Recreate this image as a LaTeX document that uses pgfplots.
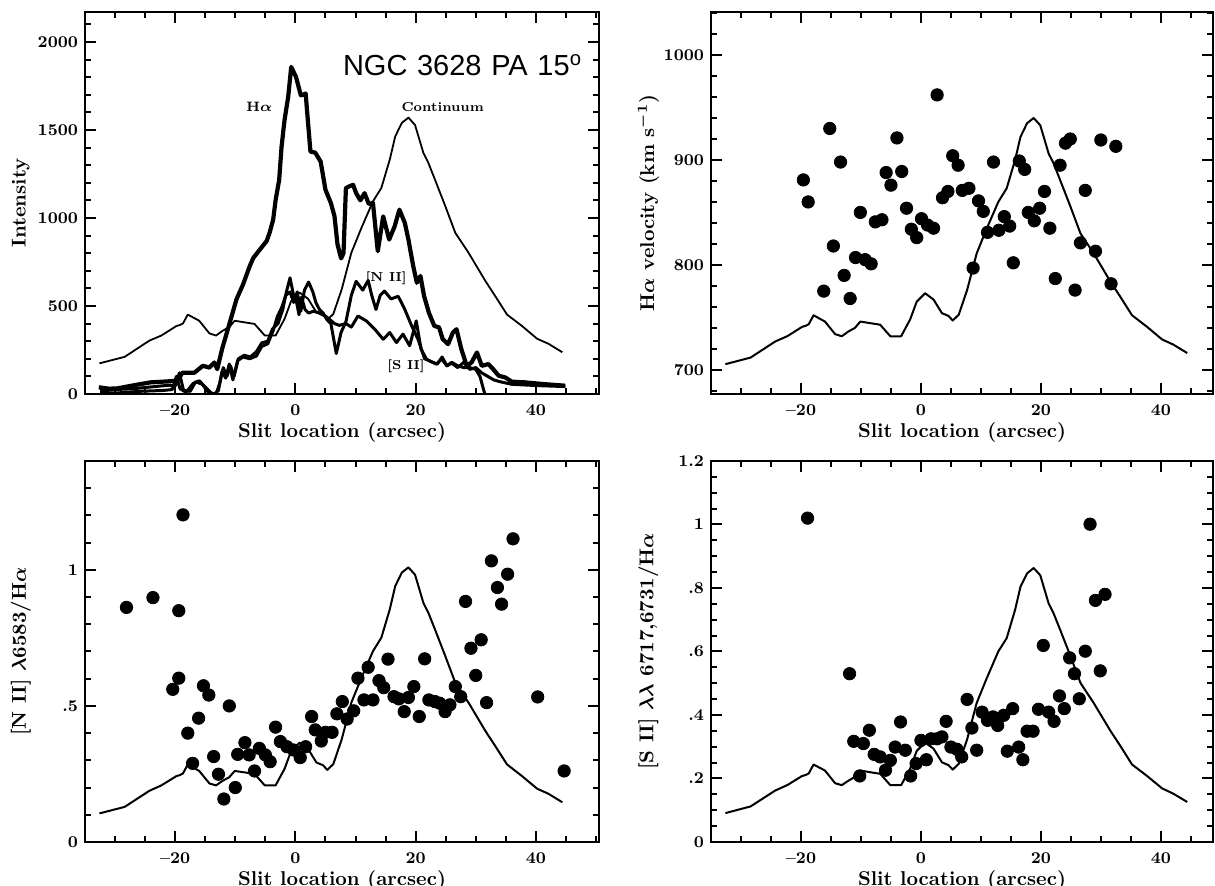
\documentclass[border=0pt]{standalone}
\usepackage{fontspec}
\usepackage{pgfplots}
\pgfplotsset{compat=1.18}
\newfontfamily\titlefont{Liberation Sans}

\pgfplotsset{
  paper/.style={
    scale only axis,
    xmin=-35,
    clip=true,
    axis line style={line width=1.3pt},
    every tick/.style={line width=1pt, black},
    major tick length=5.5pt,
    minor tick length=3pt,
    xtick={-20,0,20,40},
    xticklabels={\textendash20,0,20,40},
    minor xtick={-35,-30,...,50},
    tick label style={font=\fontsize{8.2}{9}\selectfont\bfseries},
    xticklabel style={yshift=-2pt},
    label style={font=\fontsize{10}{11}\selectfont\bfseries\boldmath},
    xlabel={Slit location (arcsec)},
    xlabel style={at={(axis description cs:0.5,-0.1)},anchor=center},
    ylabel style={at={(axis description cs:-0.125,0.5)},anchor=center},
  },
  dots/.style={only marks, mark=*, mark size=3.1pt, black, mark options={fill=black}},
  cont/.style={black, line width=1pt, line join=round, no marks},
}

\begin{document}
\begin{tikzpicture}
\useasboundingbox (0pt,0pt) rectangle (607.5pt,443pt);

% ---------------- Top left: intensities
\begin{axis}[paper, at={(42.5pt,246pt)}, anchor=south west, width=257pt, height=191pt,
  xmax=50.5, ymin=0, ymax=2170,
  ytick={0,500,1000,1500,2000}, yticklabels={0,500,1000,1500,2000},
  minor ytick={0,100,...,2100}, ylabel={Intensity}]
% continuum
\addplot[black, line width=0.9pt, line join=round] table[row sep=\\]{
x y\\
-32.6 174\\ -28.4 211\\ -24.3 303\\ -22.3 332\\ -19.8 386\\ -19.2 392\\ -18.7 401\\ -17.9 451\\
-16.0 416\\ -14.3 344\\ -13.2 332\\ -12.1 359\\ -11.0 380\\ -10.1 416\\ -7.9 404\\ -6.8 398\\
-5.1 332\\ -3.3 332\\ -1.8 427\\ -0.7 529\\ 0.7 576\\ 2.1 541\\ 3.5 463\\ 4.6 448\\ 5.3 422\\
6.3 454\\ 7.7 594\\ 9.3 802\\ 11.0 945\\ 12.9 1094\\ 14.3 1171\\ 15.7 1332\\ 16.6 1463\\
17.7 1540\\ 18.8 1570\\ 19.9 1528\\ 21.3 1368\\ 22.1 1314\\ 23.2 1219\\ 24.9 1070\\ 26.6 915\\
28.8 802\\ 31.6 642\\ 33.2 558\\ 35.2 451\\ 37.7 386\\ 40.2 314\\ 42.1 285\\ 44.4 237\\
};
% [N II]
\addplot[black, line width=1.5pt, line join=round] table[row sep=\\]{
x y\\
-32.5 20\\ -30 25\\ -27 30\\ -24 40\\ -21 50\\ -20 45\\ -19.3 120\\ -18.6 20\\ -17.5 15\\
-16.6 70\\ -15.5 55\\ -14.5 10\\ -13.5 0\\ -12.8 20\\ -12.2 130\\ -11.6 90\\ -11.0 170\\
-10.4 80\\ -9.6 190\\ -8.7 210\\ -7.6 200\\ -6.5 215\\ -5.6 270\\ -4.6 285\\ -3.7 360\\
-3.0 440\\ -2.3 490\\ -1.6 560\\ -0.9 580\\ -0.3 520\\ 0.3 580\\ 0.9 470\\ 1.5 590\\ 2.2 636\\
2.9 580\\ 3.4 520\\ 4.0 480\\ 4.6 460\\ 5.3 420\\ 5.9 400\\ 6.8 230\\ 7.6 350\\ 8.4 410\\
9.3 560\\ 10.1 640\\ 11.2 590\\ 12.1 645\\ 12.7 560\\ 13.4 480\\ 14.1 560\\ 14.8 585\\
15.9 540\\ 17.1 555\\ 18.2 480\\ 19.3 390\\ 20.4 310\\ 21.0 250\\ 21.5 200\\ 22.5 185\\
23.5 170\\ 24.3 200\\ 25.2 160\\ 26.0 175\\ 27.0 150\\ 28.0 180\\ 29.0 140\\ 30.0 150\\
31.0 120\\ 32.0 100\\ 33.0 80\\ 34.0 70\\ 36.0 55\\ 40.0 48\\ 44.9 42\\
};
% [S II]
\addplot[black, line width=1.5pt, line join=round] table[row sep=\\]{
x y\\
-32.5 10\\ -30 5\\ -26 15\\ -22 20\\ -20.5 25\\ -19.8 100\\ -19.2 30\\ -18.2 10\\ -17 60\\
-16 75\\ -15 40\\ -14 5\\ -13.2 0\\ -12.6 60\\ -12.0 150\\ -11.4 100\\ -10.8 160\\ -10.2 100\\
-9.5 200\\ -8.5 220\\ -7.5 210\\ -6.5 240\\ -5.6 290\\ -4.6 300\\ -3.8 370\\ -2.9 400\\
-2.1 480\\ -1.5 580\\ -0.9 660\\ -0.3 560\\ 0.2 520\\ 0.6 450\\ 1.0 550\\ 1.6 480\\ 2.2 460\\
3.0 470\\ 4.0 460\\ 5.1 440\\ 6.5 400\\ 7.3 390\\ 8.4 400\\ 9.3 380\\ 10.4 443\\ 11.8 415\\
13.2 368\\ 14.6 311\\ 15.7 349\\ 16.8 292\\ 17.9 340\\ 19.0 274\\ 20.1 415\\ 20.9 255\\
21.8 198\\ 22.8 180\\ 23.6 170\\ 24.4 210\\ 25.2 160\\ 26.0 180\\ 27.0 160\\ 28.0 150\\
29.0 150\\ 30.0 140\\ 30.7 100\\ 31.5 0\\
};
% H alpha
\addplot[black, line width=2.1pt, line join=round] table[row sep=\\]{
x y\\
-32.7 38\\ -31 30\\ -29.6 32\\ -26 55\\ -24.1 66\\ -21 72\\ -19.6 76\\ -18.8 121\\ -16.8 121\\
-15.4 160\\ -14.3 150\\ -13.5 179\\ -13.0 141\\ -12.2 255\\ -11.4 349\\ -10.6 443\\ -9.8 538\\
-8.7 623\\ -7.6 726\\ -7.0 773\\ -5.9 821\\ -4.8 868\\ -4.3 915\\ -3.7 990\\ -3.3 1100\\
-2.7 1217\\ -2.3 1406\\ -1.8 1558\\ -1.2 1688\\ -0.7 1858\\ 0.1 1801\\ 0.9 1697\\ 1.3 1700\\
1.7 1707\\ 2.5 1377\\ 3.3 1371\\ 4.2 1320\\ 5.0 1160\\ 5.9 1085\\ 6.5 1010\\ 7.0 850\\
7.6 770\\ 8.0 800\\ 8.4 1170\\ 9.0 1180\\ 9.6 1188\\ 10.1 1141\\ 10.8 1100\\ 11.5 1141\\
12.2 1080\\ 12.9 1085\\ 13.7 811\\ 14.6 1009\\ 15.6 877\\ 16.5 952\\ 17.3 1047\\ 18.2 972\\
18.8 877\\ 19.6 726\\ 20.2 632\\ 20.8 670\\ 21.4 557\\ 22.2 462\\ 23.1 387\\ 23.9 378\\
24.5 312\\ 25.4 283\\ 26.2 349\\ 26.8 368\\ 27.6 255\\ 28.5 160\\ 29.3 179\\ 30.2 236\\
31.0 160\\ 32.1 170\\ 32.9 141\\ 33.8 104\\ 34.9 94\\ 36.0 70\\ 38.2 66\\ 41.0 57\\ 44.9 47\\
};
\node[font=\fontsize{6.8}{7}\selectfont\bfseries\boldmath] at (axis cs:-6,1630) {H$\alpha$};
\node[font=\fontsize{6.5}{7}\selectfont\bfseries] at (axis cs:24.5,1630) {Continuum};
\node[font=\fontsize{6.5}{7}\selectfont\bfseries] at (axis cs:15.1,660) {[N II]};
\node[font=\fontsize{6.5}{7}\selectfont\bfseries] at (axis cs:18.4,160) {[S II]};
\node[font=\titlefont\fontsize{14.5}{15}\selectfont] at (axis cs:27.8,1868) {NGC\,\,3628\,\,PA\,\,15\textsuperscript{o}};
\end{axis}

% ---------------- Top right: velocities
\begin{axis}[paper, at={(355.5pt,246pt)}, anchor=south west, width=251pt, height=191pt,
  xmax=48.7, ymin=677, ymax=1041,
  ytick={700,800,900,1000}, yticklabels={700,800,900,1000},
  minor ytick={680,700,...,1040}, ylabel={H$\alpha$ velocity (km s$^{-1}$)}]
\addplot[cont] table[row sep=\\]{
x y\\
-32.6 705.4\\ -28.4 711.7\\ -24.3 727\\ -22.3 732\\ -19.8 741\\ -19.2 742\\ -18.7 743.5\\
-17.9 752\\ -16.0 746\\ -14.3 734\\ -13.2 732\\ -12.1 736.5\\ -11.0 740\\ -10.1 746\\
-7.9 744\\ -6.8 743\\ -5.1 732\\ -3.3 732\\ -1.8 748\\ -0.7 765\\ 0.7 773\\ 2.1 767\\
3.5 754\\ 4.6 751.4\\ 5.3 747\\ 6.3 752.5\\ 7.7 776\\ 9.3 811\\ 11.0 835\\ 12.9 860\\
14.3 873\\ 15.7 900\\ 16.6 922\\ 17.7 935\\ 18.8 940\\ 19.9 933\\ 21.3 906\\ 22.1 897\\
23.2 881\\ 24.9 856\\ 26.6 830\\ 28.8 811\\ 31.6 784\\ 33.2 770\\ 35.2 752\\ 37.7 741\\
40.2 729\\ 42.1 724\\ 44.4 716\\
};
\addplot[dots] table[row sep=\\]{
x y\\
-19.6 881\\ -18.8 860\\ -15.2 930\\ -16.2 775\\ -13.4 898\\ -14.6 818\\ -12.8 790\\ -11.8 768\\
-10.1 850\\ -10.9 807\\ -9.3 805\\ -8.3 801\\ -7.6 841\\ -6.5 843\\ -5.8 888\\ -5.0 876\\
-4.0 921\\ -3.2 889\\ -2.4 854\\ -1.6 834\\ -0.7 826\\ 0.1 844\\ 1.1 838\\ 2.1 835\\ 2.7 962\\
3.6 864\\ 4.5 870\\ 5.3 904\\ 6.2 895\\ 6.9 871\\ 8.0 873\\ 8.7 797\\ 9.6 861\\ 10.4 851\\
11.1 831\\ 12.1 898\\ 13.0 833\\ 13.9 846\\ 14.8 837\\ 15.4 802\\ 16.4 899\\ 17.3 891\\
17.9 850\\ 18.9 842\\ 19.8 854\\ 20.6 870\\ 21.5 835\\ 22.4 787\\ 23.2 895\\ 24.1 916\\
24.9 920\\ 25.7 776\\ 26.6 821\\ 27.4 871\\ 29.1 813\\ 30.0 919\\ 31.7 782\\ 32.5 913\\
};
\end{axis}

% ---------------- Bottom left: [N II]/Halpha
\begin{axis}[paper, at={(42.5pt,22pt)}, anchor=south west, width=257pt, height=190.5pt,
  xmax=50.5, ymin=0, ymax=1.4,
  ytick={0,0.5,1}, yticklabels={0,.5,1},
  minor ytick={0,0.1,0.2,0.3,0.4,0.5,0.6,0.7,0.8,0.9,1.0,1.1,1.2,1.3},
  ylabel={[N II] $\lambda$6583/H$\alpha$}]
\addplot[cont] table[row sep=\\]{
x y\\
-32.6 0.105\\ -28.4 0.129\\ -24.3 0.188\\ -22.3 0.208\\ -19.8 0.242\\ -19.2 0.246\\
-18.7 0.252\\ -17.9 0.285\\ -16.0 0.261\\ -14.3 0.215\\ -13.2 0.208\\ -12.1 0.225\\
-11.0 0.238\\ -10.1 0.261\\ -7.9 0.254\\ -6.8 0.250\\ -5.1 0.208\\ -3.3 0.208\\ -1.8 0.269\\
-0.7 0.335\\ 0.7 0.365\\ 2.1 0.342\\ 3.5 0.292\\ 4.6 0.282\\ 5.3 0.265\\ 6.3 0.286\\
7.7 0.377\\ 9.3 0.512\\ 11.0 0.604\\ 12.9 0.701\\ 14.3 0.751\\ 15.7 0.855\\ 16.6 0.940\\
17.7 0.990\\ 18.8 1.009\\ 19.9 0.982\\ 21.3 0.878\\ 22.1 0.843\\ 23.2 0.782\\ 24.9 0.685\\
26.6 0.585\\ 28.8 0.512\\ 31.6 0.408\\ 33.2 0.354\\ 35.2 0.285\\ 37.7 0.242\\ 40.2 0.196\\
42.1 0.177\\ 44.4 0.146\\
};
\addplot[dots] table[row sep=\\]{
x y\\
-28.1 0.862\\ -23.7 0.898\\ -19.4 0.850\\ -18.7 1.202\\ -20.4 0.561\\ -19.4 0.602\\
-17.9 0.400\\ -17.1 0.289\\ -16.1 0.455\\ -15.3 0.574\\ -14.4 0.540\\ -13.6 0.314\\
-12.8 0.249\\ -11.9 0.158\\ -11.0 0.500\\ -10.0 0.200\\ -9.6 0.322\\ -8.4 0.365\\ -7.7 0.320\\
-6.8 0.261\\ -6.0 0.344\\ -5.0 0.320\\ -4.2 0.295\\ -3.3 0.422\\ -2.5 0.369\\ -1.4 0.350\\
-0.3 0.338\\ 0.8 0.310\\ 1.7 0.350\\ 2.7 0.461\\ 3.3 0.412\\ 4.3 0.371\\ 5.0 0.403\\
6.1 0.403\\ 6.9 0.471\\ 7.8 0.516\\ 8.6 0.452\\ 9.7 0.482\\ 10.4 0.602\\ 11.4 0.522\\
12.1 0.642\\ 12.9 0.522\\ 13.9 0.593\\ 14.7 0.567\\ 15.4 0.672\\ 16.4 0.534\\ 17.2 0.526\\
18.1 0.479\\ 18.8 0.531\\ 19.7 0.571\\ 20.6 0.461\\ 21.5 0.673\\ 22.2 0.522\\ 23.2 0.516\\
24.0 0.510\\ 24.9 0.479\\ 25.7 0.504\\ 26.6 0.571\\ 27.5 0.534\\ 28.3 0.884\\ 29.2 0.712\\
30.0 0.612\\ 30.9 0.743\\ 31.8 0.512\\ 32.6 1.033\\ 33.6 0.935\\ 34.3 0.874\\ 35.3 0.984\\
36.2 1.114\\ 40.3 0.533\\ 44.7 0.261\\
};
\end{axis}

% ---------------- Bottom right: [S II]/Halpha
\begin{axis}[paper, at={(355.5pt,22pt)}, anchor=south west, width=251pt, height=190.5pt,
  xmax=48.7, ymin=0, ymax=1.2,
  ytick={0,0.2,0.4,0.6,0.8,1,1.2}, yticklabels={0,.2,.4,.6,.8,1,1.2},
  minor ytick={0,0.05,0.1,0.15,0.2,0.25,0.3,0.35,0.4,0.45,0.5,0.55,0.6,0.65,0.7,0.75,0.8,0.85,0.9,0.95,1.0,1.05,1.1,1.15},
  ylabel={[S II] $\lambda\lambda$ 6717,6731/H$\alpha$}]
\addplot[cont] table[row sep=\\]{
x y\\
-32.6 0.091\\ -28.4 0.112\\ -24.3 0.162\\ -22.3 0.179\\ -19.8 0.208\\ -19.2 0.211\\
-18.7 0.216\\ -17.9 0.244\\ -16.0 0.225\\ -14.3 0.185\\ -13.2 0.179\\ -12.1 0.193\\
-11.0 0.205\\ -10.1 0.225\\ -7.9 0.218\\ -6.8 0.215\\ -5.1 0.179\\ -3.3 0.179\\ -1.8 0.231\\
-0.7 0.287\\ 0.7 0.313\\ 2.1 0.294\\ 3.5 0.251\\ 4.6 0.242\\ 5.3 0.228\\ 6.3 0.246\\
7.7 0.323\\ 9.3 0.438\\ 11.0 0.517\\ 12.9 0.600\\ 14.3 0.642\\ 15.7 0.731\\ 16.6 0.804\\
17.7 0.846\\ 18.8 0.863\\ 19.9 0.840\\ 21.3 0.751\\ 22.1 0.721\\ 23.2 0.669\\ 24.9 0.587\\
26.6 0.501\\ 28.8 0.438\\ 31.6 0.350\\ 33.2 0.304\\ 35.2 0.244\\ 37.7 0.208\\ 40.2 0.169\\
42.1 0.152\\ 44.4 0.126\\
};
\addplot[dots] table[row sep=\\]{
x y\\
-18.9 1.020\\ -11.9 0.530\\ -11.2 0.317\\ -9.6 0.310\\ -8.6 0.352\\ -10.2 0.208\\ -7.8 0.276\\
-6.8 0.268\\ -5.9 0.226\\ -5.1 0.257\\ -4.3 0.299\\ -3.4 0.378\\ -2.6 0.289\\ -1.7 0.208\\
-0.8 0.247\\ 0.0 0.320\\ 0.9 0.259\\ 1.7 0.325\\ 2.7 0.325\\ 3.5 0.331\\ 4.2 0.380\\
5.0 0.299\\ 6.0 0.292\\ 6.8 0.268\\ 7.7 0.449\\ 8.5 0.359\\ 9.3 0.289\\ 10.2 0.409\\
11.1 0.383\\ 12.0 0.394\\ 12.8 0.367\\ 13.8 0.399\\ 15.3 0.420\\ 14.4 0.286\\ 16.3 0.299\\
17.0 0.259\\ 17.7 0.349\\ 18.7 0.349\\ 19.6 0.418\\ 20.4 0.619\\ 21.3 0.409\\ 22.2 0.380\\
23.1 0.460\\ 23.9 0.420\\ 24.8 0.580\\ 25.6 0.530\\ 26.4 0.451\\ 27.4 0.601\\ 28.2 1.001\\
29.1 0.761\\ 29.9 0.539\\ 30.7 0.780\\
};
\end{axis}
\end{tikzpicture}
\end{document}
